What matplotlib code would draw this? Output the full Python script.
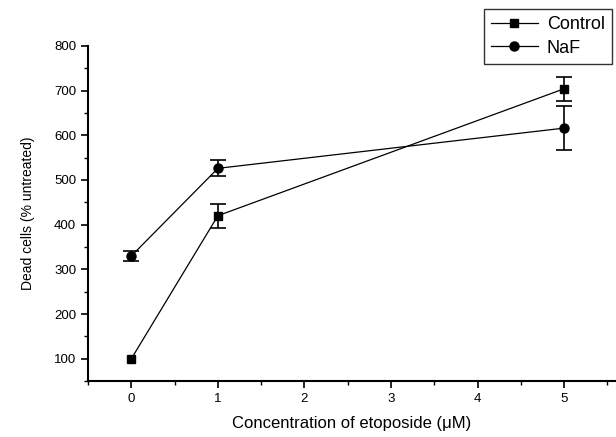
import matplotlib.pyplot as plt
from matplotlib.lines import Line2D
from matplotlib.ticker import MultipleLocator

plt.rcParams['font.family'] = ['Liberation Sans', 'DejaVu Sans']

conc = [0, 1, 5]
control = [100, 420, 704]
control_err = [0, 27, 27]
naf = [330, 526, 616]
naf_err = [12, 18, 50]

fig = plt.figure(figsize=(6.16, 4.37), dpi=100)
ax = fig.add_axes([0.143, 0.128, 0.857, 0.767])

for y, err, mk, ms in [(control, control_err, 's', 6), (naf, naf_err, 'o', 6.5)]:
    ax.plot(conc, y, color='black', marker=mk, markersize=ms, linewidth=0.9)
    idx = [i for i, e in enumerate(err) if e > 0]
    ax.errorbar([conc[i] for i in idx], [y[i] for i in idx], yerr=[err[i] for i in idx],
                fmt='none', ecolor='black', elinewidth=1.2, capsize=6, capthick=1.2)

ax.set_xlim(-0.5, 5.6)
ax.set_ylim(50, 800)
ax.xaxis.set_major_locator(MultipleLocator(1))
ax.xaxis.set_minor_locator(MultipleLocator(0.5))
ax.yaxis.set_minor_locator(MultipleLocator(50))
ax.set_yticks(range(100, 801, 100))
ax.tick_params(which='major', direction='out', length=5, width=1.2, labelsize=9.5)
ax.tick_params(which='minor', direction='out', length=3, width=1)
ax.spines['top'].set_visible(False)
ax.spines['right'].set_visible(False)
ax.spines['left'].set_linewidth(1.5)
ax.spines['bottom'].set_linewidth(1.5)

ax.set_xlabel('Concentration of etoposide (μM)', fontsize=12, labelpad=8)
ax.set_ylabel('Dead cells (% untreated)', fontsize=10, labelpad=14)

handles = [Line2D([], [], color='black', marker='s', markersize=6, linewidth=0.9),
           Line2D([], [], color='black', marker='o', markersize=6.5, linewidth=0.9)]
leg = ax.legend(handles, ['Control', 'NaF'], loc='upper left', bbox_to_anchor=(0.732, 1.137),
                fontsize=13, frameon=True, fancybox=False, edgecolor='black',
                handlelength=2.6, handletextpad=0.5, borderpad=0.4, labelspacing=0.35,
                borderaxespad=0.5)
leg.get_frame().set_linewidth(1)
leg.get_frame().set_width(leg.get_frame().get_width() + 10)

plt.savefig('out.png', dpi=100)
